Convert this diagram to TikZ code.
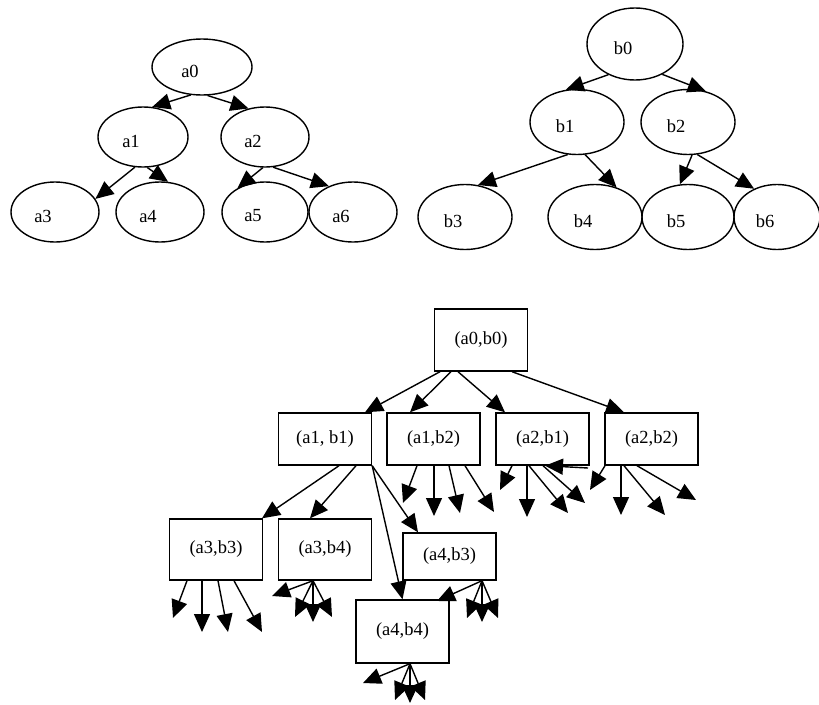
\documentclass[tikz,border=0pt]{standalone}
\usepackage{fontspec}
\setmainfont{Liberation Serif}
\usetikzlibrary{shapes.geometric,arrows.meta}

\begin{document}
\begin{tikzpicture}[x=1pt,y=-1pt,>={Triangle[length=18pt,width=16pt]},
    line width=1.4pt,font=\fontsize{18.5}{21}\selectfont,
    oval/.style n args={2}{ellipse,draw,inner sep=0pt,minimum width=#1,minimum height=#2},
    txt/.style={xshift=-12pt,yshift=-4pt},
    pairbox/.style={rectangle,draw,minimum width=93pt,minimum height=#1},
    pairbox/.default=52pt]
    \useasboundingbox (0,0) rectangle (819,704);
    % tree a
    \node[oval={100pt}{56pt},label={[txt]center:a0}] (a0) at (202,67) {};
    \node[oval={90pt}{60pt},label={[txt]center:a1}] (a1) at (143,137) {};
    \node[oval={88pt}{60pt},label={[txt]center:a2}] (a2) at (265,137) {};
    \node[oval={88pt}{60pt},label={[txt]center:a3}] (a3) at (55,212) {};
    \node[oval={88pt}{60pt},label={[txt]center:a4}] (a4) at (160,212) {};
    \node[oval={86pt}{60pt},label={[txt]center:a5}] (a5) at (265,212) {};
    \node[oval={88pt}{60pt},label={[txt]center:a6}] (a6) at (353,212) {};
    \draw[->] (a0.248) -- (a1.73);
    \draw[->] (a0.281) -- (a2.120);
    \draw[->] (a1.255) -- (a3.18);
    \draw[->] (a1.278) -- (a4.75);
    \draw[->] (a2.266) -- (a5.139);
    \draw[->] (a2.285) -- (a6.133);
    % tree b
    \node[oval={96pt}{72pt},label={[txt]center:b0}] (b0) at (635,44) {};
    \node[oval={94pt}{65pt},label={[txt]center:b1}] (b1) at (577,122) {};
    \node[oval={94pt}{65pt},label={[txt]center:b2}] (b2) at (688,122) {};
    \node[oval={94pt}{65pt},label={[txt]center:b3}] (b3) at (465,217) {};
    \node[oval={94pt}{65pt},label={[txt]center:b4}] (b4) at (595,217) {};
    \node[oval={92pt}{65pt},label={[txt]center:b5}] (b5) at (688,217) {};
    \node[oval={86pt}{65pt},label={[txt]center:b6}] (b6) at (777,217) {};
    \draw[->] (b0.229) -- (b1.109);
    \draw[->] (b0.312) -- (b2.60);
    \draw[->] (b1.254) -- (b3.68);
    \draw[->] (b1.284) -- (b4.54);
    \draw[->] (b2.277) -- (b5.104);
    \draw[->] (b2.286) -- (b6.129);
    % product graph
    \node[pairbox=62pt] (a0b0) at (481,340) {(a0,b0)};
    \node[pairbox] (a1b1) at (325,439) {(a1, b1)};
    \node[pairbox] (a1b2) at (433.5,439) {(a1,b2)};
    \node[pairbox] (a2b1) at (542.5,439) {(a2,b1)};
    \node[pairbox] (a2b2) at (651.5,439) {(a2,b2)};
    \node[pairbox=61pt] (a3b3) at (216,549.5) {(a3,b3)};
    \node[pairbox=61pt] (a3b4) at (325,549.5) {(a3,b4)};
    \node[pairbox=47pt] (a4b3) at (449.5,556.5) {(a4,b3)};
    \node[pairbox=63pt] (a4b4) at (402.5,631.5) {(a4,b4)};
    \draw[->] ([xshift=-41pt]a0b0.south) -- ([xshift=40pt]a1b1.north);
    \draw[->] ([xshift=-30pt]a0b0.south) -- ([xshift=-23.5pt]a1b2.north);
    \draw[->] ([xshift=-23pt]a0b0.south) -- ([xshift=-37.5pt]a2b1.north);
    \draw[->] ([xshift=31pt]a0b0.south) -- ([xshift=-27.5pt]a2b2.north);
    \draw[->] ([xshift=14pt]a1b1.south) -- ([xshift=46pt]a3b3.north);
    \draw[->] ([xshift=31pt]a1b1.south) -- ([xshift=-15pt]a3b4.north);
    \draw[->] (a1b1.south east) -- (a4b4.north);
    \draw[->] (a1b1.south east) -- ([xshift=-31.5pt]a4b3.north);
    % loose ends
    \foreach \dx/\ex/\ey [count=\i] in {-16.5/403/503,0.5/434/516,15.5/460/513,31.5/494/512}
      {\coordinate (a1b2-\i) at (\ex,\ey);
       \draw[->] ([xshift=\dx pt]a1b2.south) -- (a1b2-\i);}
    \foreach \dx/\ex/\ey [count=\i] in {-30.5/500/490,-15.5/527/517,-13.5/568/513,0.5/585/503}
      {\coordinate (a2b1-\i) at (\ex,\ey);
       \draw[->] ([xshift=\dx pt]a2b1.south) -- (a2b1-\i);}
    \coordinate (a2b1-in) at (588,468);
    \draw[->] (a2b1-in) -- ([xshift=2.5pt]a2b1.south);
    \foreach \dx/\ex/\ey [count=\i] in {-46.5/590/490,-30.5/621/515,-27.5/665/515,-14.5/696/500}
      {\coordinate (a2b2-\i) at (\ex,\ey);
       \draw[->] ([xshift=\dx pt]a2b2.south) -- (a2b2-\i);}
    \foreach \dx/\ex/\ey [count=\i] in {-29/173/618,-14/202/632,2/228/632,18/262/632}
      {\coordinate (a3b3-\i) at (\ex,\ey);
       \draw[->] ([xshift=\dx pt]a3b3.south) -- (a3b3-\i);}
    \foreach \ex/\ey [count=\i] in {272/596,295/617,313/622,332/617}
      {\coordinate (a3b4-\i) at (\ex,\ey);
       \draw[->] ([xshift=-12pt]a3b4.south) -- (a3b4-\i);}
    \foreach \ex/\ey [count=\i] in {437/601,467/618,482/622,498/618}
      {\coordinate (a4b3-\i) at (\ex,\ey);
       \draw[->] ([xshift=32.5pt]a4b3.south) -- (a4b3-\i);}
    \foreach \ex/\ey [count=\i] in {363/683,395/700,410/703,425/700}
      {\coordinate (a4b4-\i) at (\ex,\ey);
       \draw[->] ([xshift=7.5pt]a4b4.south) -- (a4b4-\i);}
\end{tikzpicture}
\end{document}
